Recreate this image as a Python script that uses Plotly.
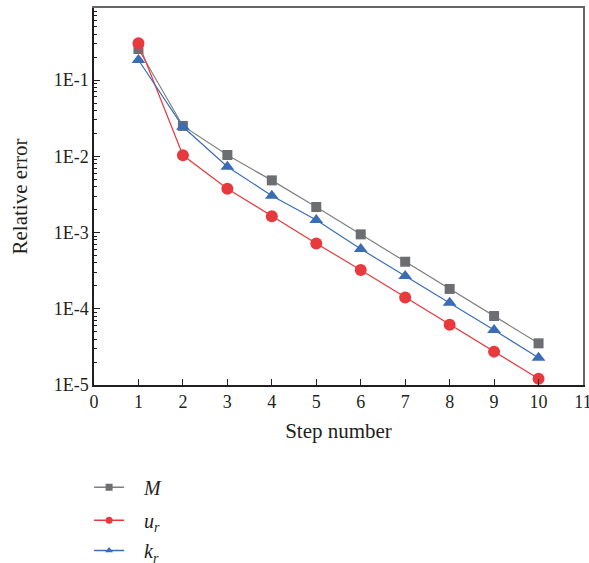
import plotly.graph_objects as go

steps = [1, 2, 3, 4, 5, 6, 7, 8, 9, 10]
M_err = [0.255, 0.025, 0.0104, 0.00483, 0.00216, 9.46e-4, 4.14e-4, 1.82e-4, 8.03e-5, 3.52e-5]
ur_err = [0.303, 0.0103, 0.00376, 0.00164, 7.2e-4, 3.22e-4, 1.41e-4, 6.18e-5, 2.74e-5, 1.21e-5]
kr_err = [0.183, 0.0244, 0.0073, 0.00304, 0.00146, 6.08e-4, 2.69e-4, 1.2e-4, 5.26e-5, 2.28e-5]

x_ticks = list(range(0, 12))
y_tickvals = [1e-5, 1e-4, 1e-3, 1e-2, 1e-1]
y_ticktext = ["1E-5", "1E-4", "1E-3", "1E-2", "1E-1"]

NB = "\u00a0"
series = [
    (NB * 3 + "<i>M</i>", M_err, "#6d6e71", "#7f7f7f", "square", 10, "legend"),
    (NB * 3 + "<i>u<sub>r</sub></i>", ur_err, "#e8393e", "#e8393e", "circle", 12, "legend2"),
    (NB * 3 + "<i>k<sub>r</sub></i>", kr_err, "#3a6db5", "#3a6db5", "triangle-up", 12, "legend3"),
]

fig = go.Figure()
for name, vals, mcol, lcol, sym, size, leg in series:
    fig.add_trace(go.Scatter(x=steps, y=vals, mode="lines+markers", name=name,
                             line=dict(color=lcol, width=1.2),
                             marker=dict(symbol=sym, size=size, color=mcol),
                             showlegend=False))
for name, vals, mcol, lcol, sym, size, leg in series:
    fig.add_trace(go.Scatter(x=[None], y=[None], mode="lines+markers", name=name,
                             line=dict(color=lcol, width=1.5),
                             marker=dict(symbol=sym, size=7, color=mcol),
                             showlegend=True, legend=leg))

font_family = "Liberation Serif"
leg_common = dict(xanchor="left", yanchor="middle", bgcolor="rgba(0,0,0,0)",
                  font=dict(family=font_family, size=20, color="#231f20"), itemwidth=30)
minor_vals = [m * 10 ** e for e in range(-5, 0) for m in range(2, 10)]

fig.update_layout(
    width=589, height=563,
    margin=dict(l=94, r=6, t=8, b=178, autoexpand=False),
    paper_bgcolor="white", plot_bgcolor="white",
    font=dict(family=font_family, size=18, color="#231f20"),
    legend=dict(x=-0.01, y=-0.271, **leg_common),
    legend2=dict(x=-0.01, y=-0.359, **leg_common),
    legend3=dict(x=-0.01, y=-0.439, **leg_common),
    xaxis=dict(range=[0, 11], tickmode="array", tickvals=x_ticks,
               ticks="inside", ticklen=6, tickwidth=1, tickcolor="#231f20",
               showline=True, linecolor="#231f20", linewidth=1.5, mirror=False,
               showgrid=False, zeroline=False, automargin=False,
               ticklabeloverflow="allow",
               title=dict(text="Step number", font=dict(size=21), standoff=12)),
    xaxis2=dict(overlaying="x", side="top", range=[0, 11], showticklabels=False,
                showline=True, linecolor="#666", linewidth=1.5, showgrid=False, ticks="",
                automargin=False),
    yaxis=dict(type="log", range=[-5, -0.055], tickmode="array",
               tickvals=y_tickvals, ticktext=y_ticktext,
               ticks="inside", ticklen=6, tickwidth=1, tickcolor="#231f20",
               minor=dict(tickvals=minor_vals, ticks="inside", ticklen=3, tickcolor="#231f20", showgrid=False),
               showline=True, linecolor="#231f20", linewidth=1.5,
               showgrid=False, zeroline=False, automargin=False,
               title=dict(text="Relative error", font=dict(size=21), standoff=20)),
    yaxis2=dict(overlaying="y", side="right", type="log", range=[-5, -0.055], showticklabels=False,
                showline=True, linecolor="#666", linewidth=1.5, showgrid=False, ticks="",
                automargin=False),
)
fig.add_trace(go.Scatter(x=[None], y=[None], xaxis="x2", yaxis="y2", showlegend=False))

fig.write_html("out.html", config={"displayModeBar": False},
               post_script="document.body.style.margin='0';document.body.style.overflow='hidden';")
